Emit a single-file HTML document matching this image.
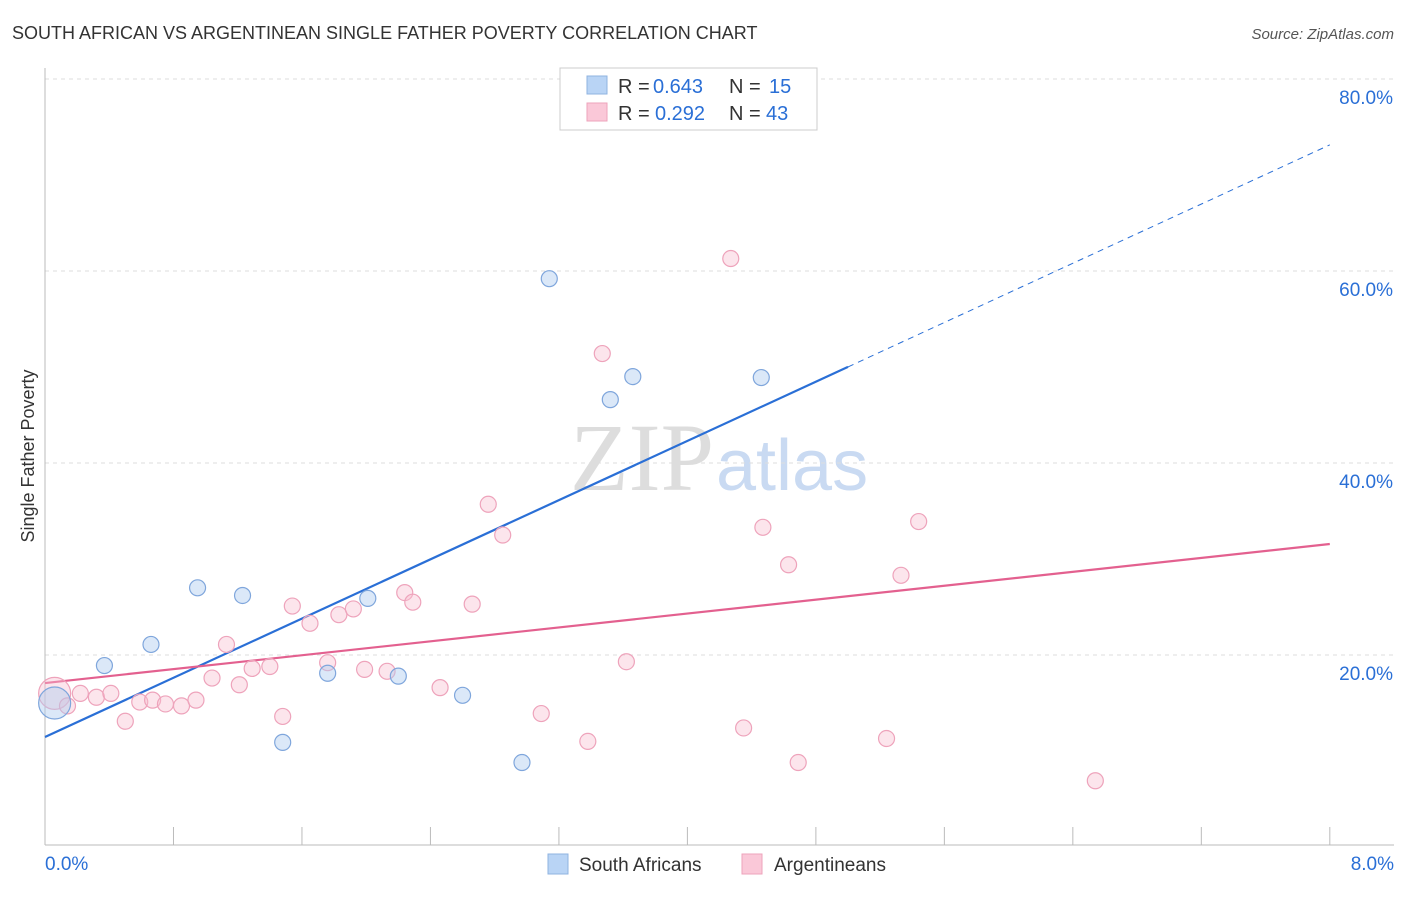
<!DOCTYPE html>
<html><head><meta charset="utf-8"><style>
body{margin:0;background:#fff;font-family:"Liberation Sans",sans-serif;}
svg text{font-family:"Liberation Sans",sans-serif;}
</style></head><body>
<svg id="chart" width="1406" height="892">
<text x="12" y="39" font-size="18" fill="#333">SOUTH AFRICAN VS ARGENTINEAN SINGLE FATHER POVERTY CORRELATION CHART</text>
<text x="1394" y="39" font-size="15" fill="#555" text-anchor="end" font-style="italic">Source: ZipAtlas.com</text>
<text x="34" y="456" font-size="18" fill="#333" text-anchor="middle" transform="rotate(-90 34 456)">Single Father Poverty</text>
<text x="714" y="490" font-size="96" fill="#ddd" text-anchor="end" style="font-family:'Liberation Serif',serif">ZIP</text>
<text x="716" y="490" font-size="72" fill="#c9daf2">atlas</text>
<g id="grid"></g><g id="lines"></g><g id="pts"></g>
<g>
<rect x="560" y="68" width="257" height="62" fill="#fff" stroke="#ccc"/>
<rect x="587" y="76" width="20" height="18" fill="#b9d4f5" stroke="#8fb3e0"/>
<rect x="587" y="103" width="20" height="18" fill="#fac8d8" stroke="#eea3bb"/>
<text x="618" y="93" font-size="20" fill="#333">R =</text>
<text x="653" y="93" font-size="20" fill="#2a6fd6">0.643</text>
<text x="729" y="93" font-size="20" fill="#333">N =</text>
<text x="769" y="93" font-size="20" fill="#2a6fd6">15</text>
<text x="618" y="120" font-size="20" fill="#333">R =</text>
<text x="655" y="120" font-size="20" fill="#2a6fd6">0.292</text>
<text x="729" y="120" font-size="20" fill="#333">N =</text>
<text x="766" y="120" font-size="20" fill="#2a6fd6">43</text>
</g>
<g>
<rect x="548" y="854" width="20" height="20" fill="#b9d4f5" stroke="#8fb3e0"/>
<text x="579" y="871" font-size="19" fill="#333">South Africans</text>
<rect x="742" y="854" width="20" height="20" fill="#fac8d8" stroke="#eea3bb"/>
<text x="774" y="871" font-size="19" fill="#333">Argentineans</text>
</g>
</svg>
<script>
const xTicks=[0,0.8,1.6,2.4,3.2,4,4.8,5.6,6.4,7.2,8];
const yTicks=[20,40,60,80];
const blueX=[0.06,0.37,0.66,0.95,1.23,1.48,1.76,2.01,2.20,2.60,2.97,3.14,3.52,3.66,4.46];
const blueY=[15.0,18.9,21.1,27.0,26.2,10.9,18.1,25.9,17.8,15.8,8.8,59.2,46.6,49.0,48.9];
const pinkX=[0.06,0.14,0.22,0.32,0.41,0.50,0.59,0.67,0.75,0.85,0.94,1.04,1.13,1.21,1.29,1.40,1.48,1.54,1.65,1.76,1.83,1.92,1.99,2.13,2.24,2.29,2.46,2.66,2.76,2.85,3.09,3.38,3.47,3.62,4.27,4.35,4.47,4.63,4.69,5.24,5.33,5.44,6.54];
const pinkY=[16.0,14.7,16.0,15.6,16.0,13.1,15.1,15.3,14.9,14.7,15.3,17.6,21.1,16.9,18.6,18.8,13.6,25.1,23.3,19.2,24.2,24.8,18.5,18.3,26.5,25.5,16.6,25.3,35.7,32.5,13.9,11.0,51.4,19.3,61.3,12.4,33.3,29.4,8.8,11.3,28.3,33.9,6.9];
const blueFit=[11.46,7.71], pinkFit=[17.08,1.81];
const X=v=>45+v*160.6, Y=v=>847-v*9.6;
const NS='http://www.w3.org/2000/svg';
function mk(t,a,p){const e=document.createElementNS(NS,t);for(const k in a)e.setAttribute(k,a[k]);p.appendChild(e);return e;}
const g=document.getElementById('grid');
yTicks.forEach(t=>{
const l=mk('line',{x1:45,x2:1394,y1:Y(t),y2:Y(t),stroke:'#ddd','stroke-dasharray':'4,4'},g);


const tx=mk('text',{x:1393,y:Y(t)+25,'font-size':19,fill:'#2a6fd6','text-anchor':'end'},g);tx.textContent=t.toFixed(1)+'%';


});
mk('line',{x1:45,x2:45,y1:68,y2:845,stroke:'#bbb'},g);
mk('line',{x1:45,x2:1394,y1:845,y2:845,stroke:'#bbb'},g);
xTicks.forEach(t=>{const l=mk('line',{x1:X(t),x2:X(t),y1:827,y2:845,stroke:'#bbb'},g);

});
[[0,'start',45],[8,'end',1394]].forEach(([v,a,x])=>{const t=mk('text',{x:x,y:870,'font-size':19,fill:'#2a6fd6','text-anchor':a},g);t.textContent=v.toFixed(1)+'%';

});
const L=document.getElementById('lines');
let e=mk('line',{x1:X(0),y1:Y(blueFit[0]),x2:X(5),y2:Y(blueFit[0]+5*blueFit[1]),stroke:'#2a6fd6','stroke-width':2.2},L);


e=mk('line',{x1:X(5),y1:Y(blueFit[0]+5*blueFit[1]),x2:X(8),y2:Y(blueFit[0]+8*blueFit[1]),stroke:'#2a6fd6','stroke-width':1,'stroke-dasharray':'6,5'},L);


e=mk('line',{x1:X(0),y1:Y(pinkFit[0]),x2:X(8),y2:Y(pinkFit[0]+8*pinkFit[1]),stroke:'#e3608f','stroke-width':2.2},L);


const P=document.getElementById('pts');
pinkX.forEach((x,i)=>{const c=mk('circle',{cx:X(x),cy:Y(pinkY[i]),r:i==0?16:8,fill:'rgba(248,190,208,0.4)',stroke:'#eea3bb','stroke-width':1.2},P);

});
blueX.forEach((x,i)=>{const c=mk('circle',{cx:X(x),cy:Y(blueY[i]),r:i==0?16:8,fill:'rgba(176,204,240,0.45)',stroke:'#7fa6dc','stroke-width':1.2},P);

});
</script>
</body></html>
